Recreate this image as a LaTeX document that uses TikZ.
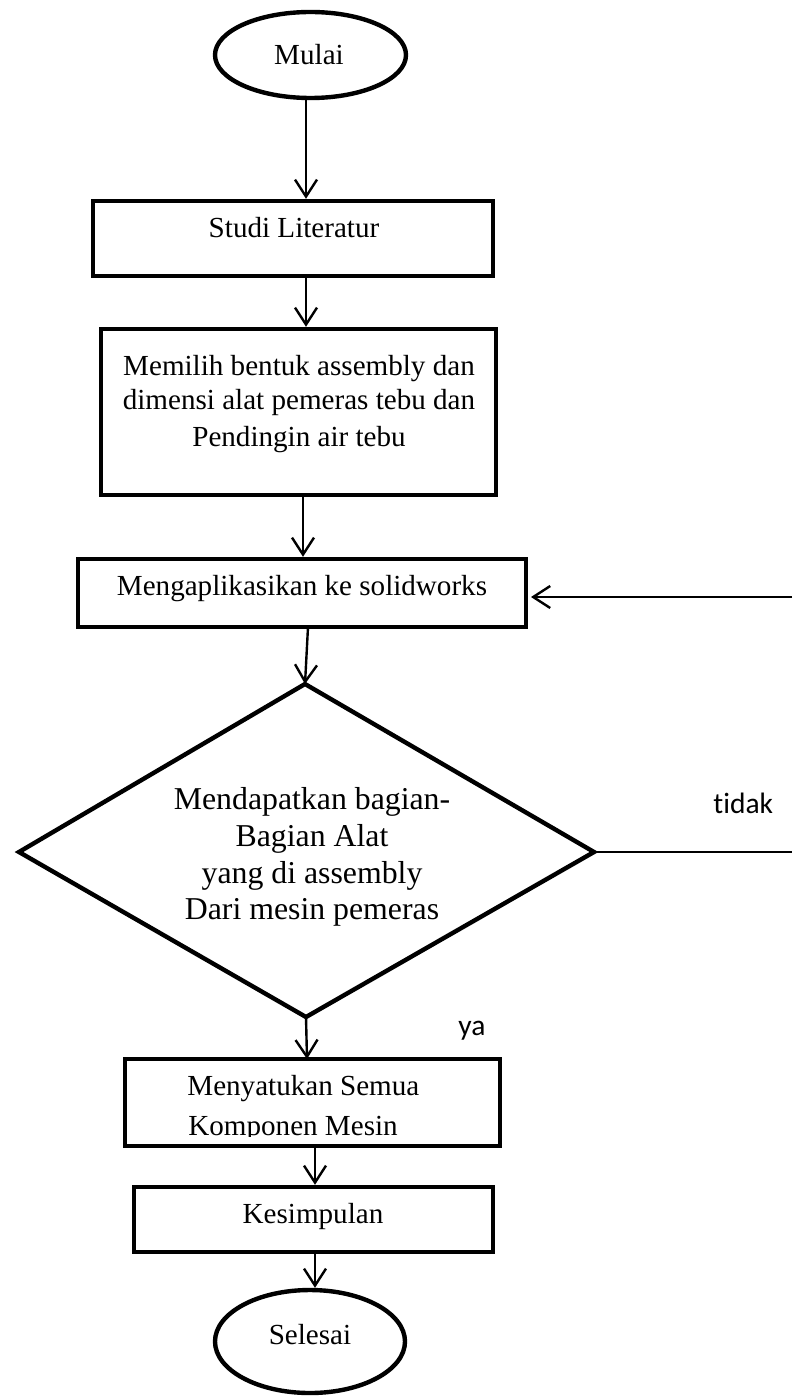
\documentclass[tikz,border=0pt]{standalone}
\usepackage{fontspec}
\setmainfont{Liberation Serif}
\newfontfamily\lblfamily[Ligatures=NoCommon]{Carlito}
\usetikzlibrary{arrows.meta,shapes.geometric}
\newcommand{\bxfont}{\fontsize{14.55}{17}\selectfont}
\newcommand{\dmfont}{\fontsize{15.9}{18}\selectfont}
\newcommand{\lbfont}{\lblfamily\fontsize{14.75}{17}\selectfont}
\tikzset{
  boxnode/.style={draw, line width=2.2pt, rectangle, inner sep=0pt},
  termnode/.style={draw, line width=2.2pt, ellipse, inner sep=0pt},
  arr/.style={-{Straight Barb[length=8.5pt,width=11pt,line width=1.2pt]}, line width=1.2pt},
  plainline/.style={line width=1.2pt},
  txt/.style={font=\bxfont, anchor=base, inner sep=0pt},
  dtxt/.style={font=\dmfont, anchor=base, inner sep=0pt},
  ltxt/.style={font=\lbfont, anchor=base west, inner sep=0pt},
}
\begin{document}
\begin{tikzpicture}[x=0.5pt,y=-0.5pt]
\useasboundingbox (0,0) rectangle (792,1396);
% terminals
\node[termnode, minimum width=95.5pt, minimum height=43pt] (mulai) at (310.5,55) {};
\node[txt] (tmulai) at (309,65) {Mulai};
\node[termnode, minimum width=95pt, minimum height=51.5pt] (selesai) at (310,1341.5) {};
\node[txt] (tselesai) at (310,1344) {Selesai};
% boxes
\node[boxnode, minimum width=200pt, minimum height=37.5pt] (b1) at (293,238.5) {};
\node[txt] (tb1) at (294,238) {Studi Literatur};
\node[boxnode, minimum width=197.5pt, minimum height=83pt] (b2) at (298.5,412) {};
\node[txt] (tb2a) at (299,375) {Memilih bentuk assembly dan};
\node[txt] (tb2b) at (299,409) {dimensi alat pemeras tebu dan};
\node[txt] (tb2c) at (299,446) {Pendingin air tebu};
\node[boxnode, minimum width=224pt, minimum height=34pt] (b3) at (302,593) {};
\node[txt] (tb3) at (302,595) {Mengaplikasikan ke solidworks};
\node[boxnode, minimum width=187.5pt, minimum height=43.5pt] (b4) at (312.5,1102.5) {};
\node[txt, anchor=base west] (tb4a) at (187,1095) {Menyatukan Semua};
\begin{scope}
\clip (125,1059) rectangle (500,1136.5);
\node[txt, anchor=base west] (tb4b) at (188,1135) {Komponen Mesin};
\end{scope}
\node[boxnode, minimum width=179.5pt, minimum height=32.5pt] (b5) at (313.5,1219.5) {};
\node[txt] (tb5) at (313,1223) {Kesimpulan};
% decision
\coordinate (dt) at (305,684);
\coordinate (dl) at (19,852);
\coordinate (dr) at (594,852);
\coordinate (db) at (306,1017);
\draw[line width=2.2pt, line join=miter] (dt) -- (dr) -- (db) -- (dl) -- cycle;
\node[dtxt] (td1) at (312,809) {Mendapatkan bagian-};
\node[dtxt] (td2) at (312,846) {Bagian Alat};
\node[dtxt] (td3) at (312,883) {yang di assembly};
\node[dtxt] (td4) at (312,919) {Dari mesin pemeras};
% labels
\node[ltxt] (tidak) at (713,813) {tidak};
\node[ltxt] (ya) at (458,1035) {ya};
% connector columns
\coordinate (x1) at (306,0);
\coordinate (x3) at (303,0);
\coordinate (x6) at (315,0);
\coordinate (b3out) at (308,627);
\coordinate (b4in) at (307,1059);
\coordinate (re) at (792,852);
\coordinate (rt) at (792,597);
\coordinate (b3in) at (531,597);
% connectors
\draw[arr] (mulai.south -| x1) -- (b1.north -| x1);
\draw[arr] (b1.south -| x1) -- (b2.north -| x1);
\draw[arr] (b2.south -| x3) -- (b3.north -| x3);
\draw[arr] (b3out) -- (dt);
\draw[arr] (db) -- (b4in);
\draw[arr] (b4.south -| x6) -- (b5.north -| x6);
\draw[arr] (b5.south -| x6) -- (selesai.north -| x6);
\draw[plainline] (dr) -- (re);
\draw[arr] (rt) -- (b3in);
\end{tikzpicture}
\end{document}
